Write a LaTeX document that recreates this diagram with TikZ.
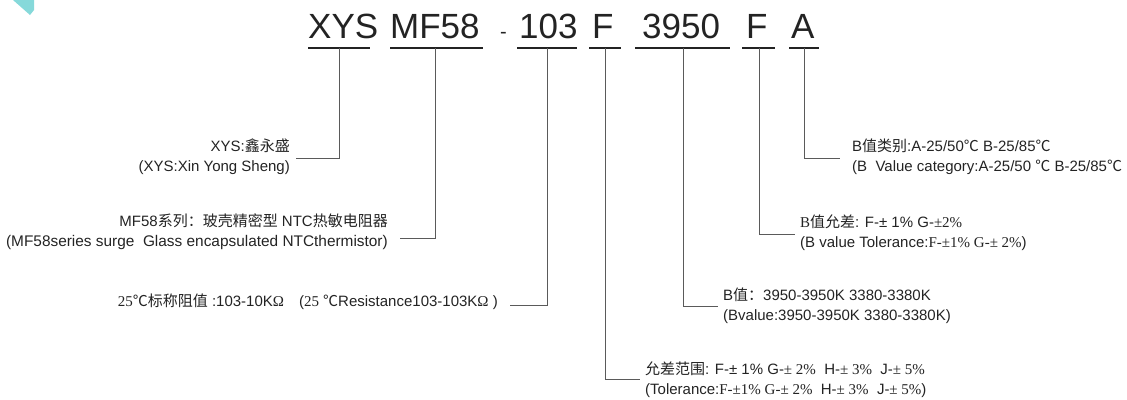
\documentclass[tikz,border=0pt]{standalone}
\usepackage{fontspec}
\setmainfont{Liberation Sans}
\newfontfamily\cjk{Noto Sans CJK SC}
\newfontfamily\sng{Liberation Serif}
\usetikzlibrary{positioning}

\definecolor{inkgray}{HTML}{232323}
\definecolor{leadgray}{HTML}{5A5A5A}
\definecolor{markcyan}{HTML}{86D9DA}

\tikzset{
  partno/.style={font=\fontsize{35}{35}\selectfont, text=inkgray, inner sep=0pt, anchor=base west},
  partbar/.style={line width=2.6pt, draw=inkgray},
  leader/.style={line width=0.9pt, draw=leadgray},
  descR/.style={font=\fontsize{15}{20}\selectfont, text=inkgray, inner sep=0pt, align=right, anchor=east},
  descL/.style={font=\fontsize{15}{20}\selectfont, text=inkgray, inner sep=0pt, align=left, anchor=west},
}

\begin{document}
\begin{tikzpicture}[x=1pt,y=-1pt]
  \useasboundingbox (0,0) rectangle (1127,399);
  \fill[markcyan] (13,0) -- (34,0) -- (34,10) -- (30,15) -- cycle;

  % part number
  \node[partno] (xys) at (308,38) {XYS};
  \node[partno] (mf) at (390,38) {MF58};
  \node[partno,font=\fontsize{20}{20}\selectfont] (dash) at (500,38) {-};
  \node[partno] (res) at (519,38) {103};
  \node[partno] (tol) at (592,38) {F};
  \node[partno] (bval) at (642,38) {3950};
  \node[partno] (btol) at (746,38) {F};
  \node[partno] (bcat) at (791,38) {A};

  % bars under the fields
  \coordinate (xys-a) at (308,48);  \coordinate (xys-b) at (370,48);  \coordinate (xys-m) at (339,48);
  \coordinate (mf-a) at (390,48);   \coordinate (mf-b) at (483,48);   \coordinate (mf-m) at (435,48);
  \coordinate (res-a) at (517,48);  \coordinate (res-b) at (577,48);  \coordinate (res-m) at (547,48);
  \coordinate (tol-a) at (589,48);  \coordinate (tol-b) at (621,48);  \coordinate (tol-m) at (605,48);
  \coordinate (bval-a) at (635,48); \coordinate (bval-b) at (730,48); \coordinate (bval-m) at (683,48);
  \coordinate (btol-a) at (742,48); \coordinate (btol-b) at (775,48); \coordinate (btol-m) at (759,48);
  \coordinate (bcat-a) at (789,48); \coordinate (bcat-b) at (819,48); \coordinate (bcat-m) at (804,48);
  \draw[partbar] (xys-a) -- (xys-b);
  \draw[partbar] (mf-a) -- (mf-b);
  \draw[partbar] (res-a) -- (res-b);
  \draw[partbar] (tol-a) -- (tol-b);
  \draw[partbar] (bval-a) -- (bval-b);
  \draw[partbar] (btol-a) -- (btol-b);
  \draw[partbar] (bcat-a) -- (bcat-b);

  % descriptions
  \node[descR] (xysLab) at (290,157) {XYS:{\cjk 鑫永盛}\\(XYS:Xin Yong Sheng)};
  \node[descR] (mfLab) at (388,232) {MF58{\cjk 系列：玻壳精密型} NTC{\cjk 热敏电阻器}\\{\fontsize{15.4}{20}\selectfont (MF58series surge\ \ Glass encapsulated NTCthermistor)}};
  \node[descR] (resLab) at (498,302) {{\sng 25}{\cjk ℃标称阻值} :103-10K{\sng Ω}\quad({\sng 25} {\cjk ℃}Resistance103-103K{\sng Ω} )};
  \node[descL] (tolLab) at (645,380) {{\cjk 允差范围}: F-± 1\% G-{\sng ± 2\%}\ \ H-{\sng ± 3\%}\ \ J-{\sng ± 5\%}\\(Tolerance:{\sng F-±1\% G-± 2\%}\ \ H-{\sng ± 3\%}\ \ J-{\sng ± 5\%})};
  \node[descL] (bvalLab) at (723,306) {B{\cjk 值：}3950-3950K 3380-3380K\\(Bvalue:3950-3950K 3380-3380K)};
  \node[descL] (btolLab) at (800,233) {{\sng B}{\cjk 值允差}: F-± 1\% G-{\sng ±2\%}\\(B value Tolerance:{\sng F-±1\% G-± 2\%})};
  \node[descL] (bcatLab) at (852,157) {B{\cjk 值类别}:A-25/50{\cjk ℃} B-25/85{\cjk ℃}\\(B\ \ Value category:A-25/50 {\cjk ℃} B-25/85{\cjk ℃}};

  % leader ends
  \coordinate (xys-e) at (296,158);
  \coordinate (mf-e) at (400,238);
  \coordinate (res-e) at (510,305);
  \coordinate (tol-e) at (640,379);
  \coordinate (bval-e) at (718,306);
  \coordinate (btol-e) at (795,234);
  \coordinate (bcat-e) at (840,158);
  \draw[leader] (xys-m) |- (xys-e);
  \draw[leader] (mf-m) |- (mf-e);
  \draw[leader] (res-m) |- (res-e);
  \draw[leader] (tol-m) |- (tol-e);
  \draw[leader] (bval-m) |- (bval-e);
  \draw[leader] (btol-m) |- (btol-e);
  \draw[leader] (bcat-m) |- (bcat-e);
\end{tikzpicture}
\end{document}
